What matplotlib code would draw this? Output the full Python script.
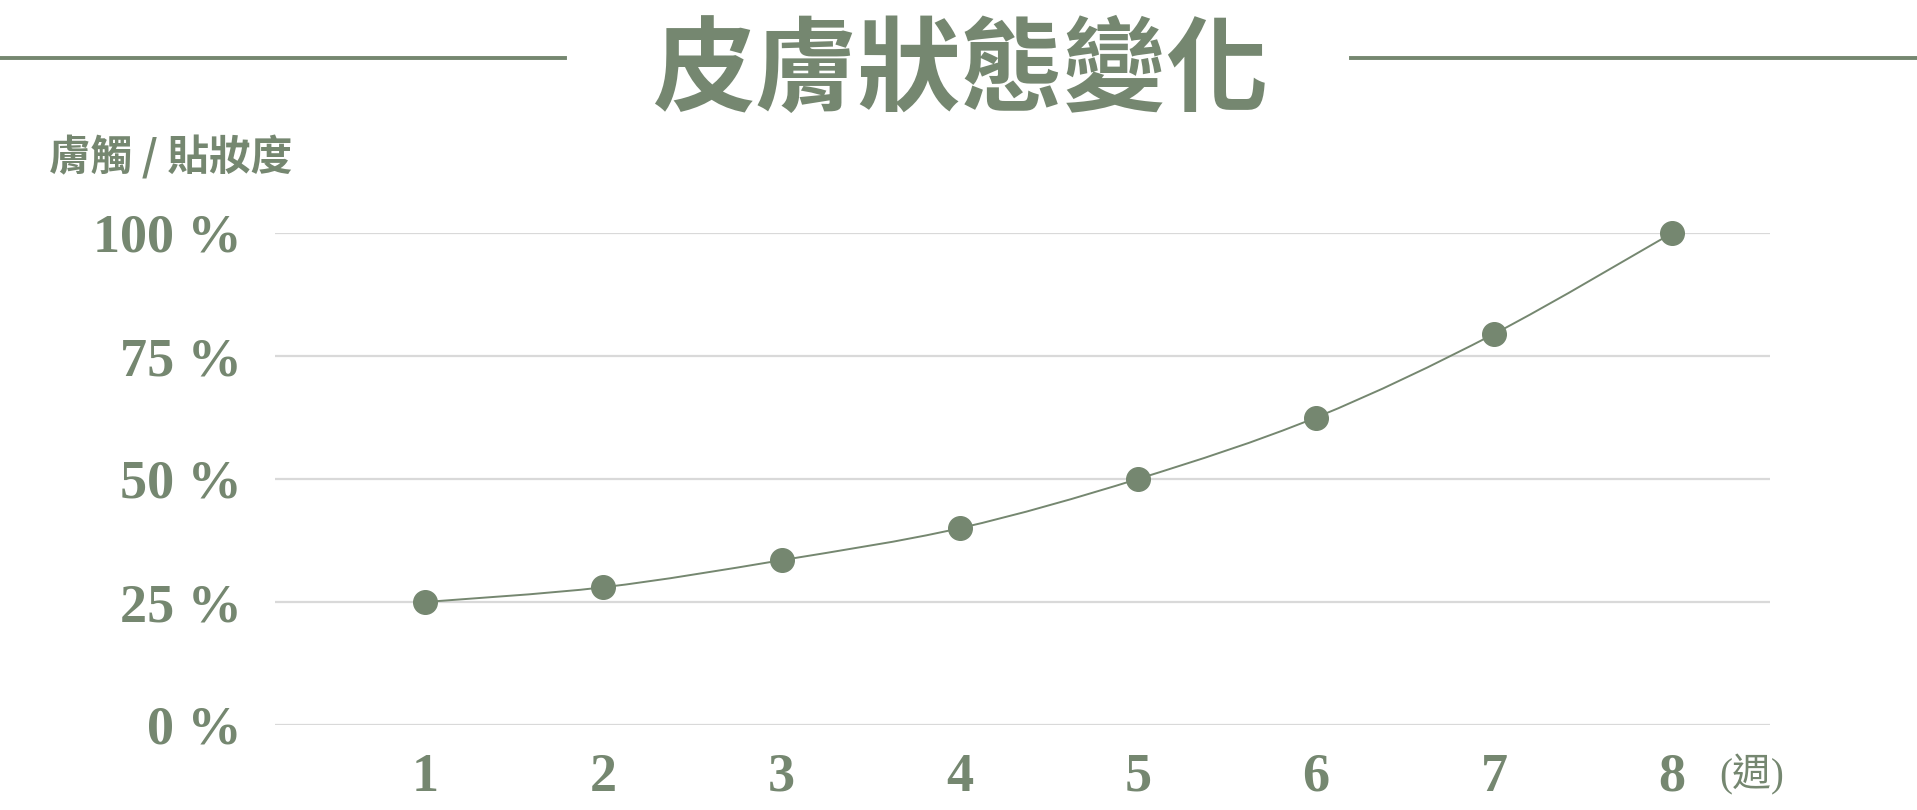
import matplotlib
matplotlib.use("Agg")
import matplotlib.pyplot as plt
from matplotlib.path import Path
from matplotlib.patches import PathPatch
from matplotlib.lines import Line2D
import numpy as np

plt.rcParams['font.family'] = ['Noto Sans CJK TC', 'DejaVu Sans']

weeks = [1, 2, 3, 4, 5, 6, 7, 8]
values = [25, 28, 33.5, 40, 50, 62.5, 79.5, 100]
yticks = [0, 25, 50, 75, 100]
ytick_labels = ['0 %', '25 %', '50 %', '75 %', '100 %']
title = '皮膚狀態變化'
ylabel = '膚觸 / 貼妝度'
xunit = '(週)'

GREEN = '#758770'
GRID = '#d9d9d9'

W, H = 1917, 810
fig = plt.figure(figsize=(W / 100, H / 100), dpi=100)
fig.patch.set_facecolor('white')

ax = fig.add_axes([275 / W, 85 / H, (1770 - 275) / W, (725 - 233) / H])
ax.set_xlim(0.156, 8.549)
ax.set_ylim(0, 100)
ax.set_yticks(yticks)
ax.set_yticklabels(ytick_labels, family=['Liberation Serif'], color=GREEN,
                   fontsize=39, fontweight='bold')
ax.set_xticks(weeks)
ax.set_xticklabels([str(w) for w in weeks], family=['Liberation Serif'], color=GREEN,
                   fontsize=39, fontweight='bold')
ax.tick_params(axis='y', length=0, pad=24)
ax.tick_params(axis='x', length=0, pad=20)
for s in ax.spines.values():
    s.set_visible(False)
ax.grid(axis='y', color=GRID, linewidth=1.6)
ax.set_axisbelow(True)

# smooth curve (Catmull-Rom -> cubic Bezier) through data points
x = np.asarray(weeks, dtype=float)
y = np.asarray(values, dtype=float)
verts = [(x[0], y[0])]
codes = [Path.MOVETO]
n = len(x)
for i in range(n - 1):
    p0 = (x[i - 1], y[i - 1]) if i > 0 else (x[i], y[i])
    p1 = (x[i], y[i])
    p2 = (x[i + 1], y[i + 1])
    p3 = (x[i + 2], y[i + 2]) if i + 2 < n else (x[i + 1], y[i + 1])
    c1 = (p1[0] + (p2[0] - p0[0]) / 6, p1[1] + (p2[1] - p0[1]) / 6)
    c2 = (p2[0] - (p3[0] - p1[0]) / 6, p2[1] - (p3[1] - p1[1]) / 6)
    verts += [c1, c2, p2]
    codes += [Path.CURVE4] * 3
ax.add_patch(PathPatch(Path(verts, codes), facecolor='none', edgecolor=GREEN,
                       linewidth=1.4, clip_on=False, zorder=3))
ax.plot(weeks, values, linestyle='none', marker='o', markersize=17,
        color=GREEN, clip_on=False, zorder=4)

# title with side rules
fig.add_artist(Line2D([0, 565 / W], [1 - 57.5 / H] * 2, color=GREEN, linewidth=2.8))
fig.add_artist(Line2D([1351 / W, 1], [1 - 57.5 / H] * 2, color=GREEN, linewidth=2.8))
fig.text(960 / W, 1 - 73 / H, title, ha='center', va='center', fontsize=74,
         fontweight='bold', color=GREEN)

fig.text(49 / W, 1 - 157 / H, ylabel, ha='left', va='center', fontsize=30,
         fontweight='bold', color=GREEN)
fig.text(1752 / W, 1 - 775 / H, xunit, ha='center', va='center', fontsize=28,
         color=GREEN, family=['Liberation Serif', 'Noto Sans CJK TC'])

fig.savefig('out.png', dpi=100, facecolor='white')
